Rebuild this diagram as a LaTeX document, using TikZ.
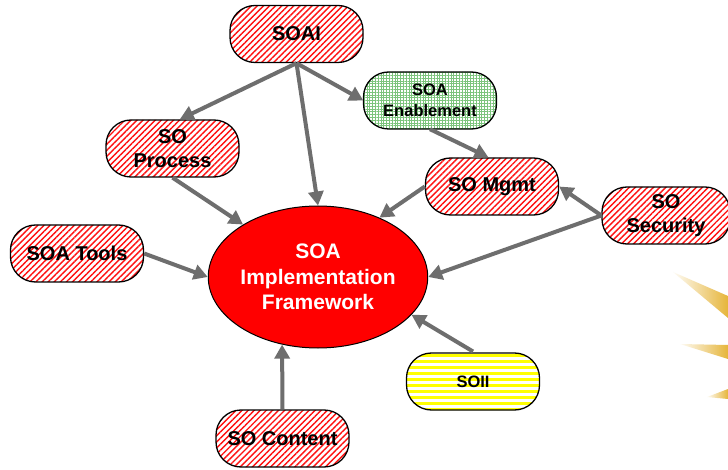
\documentclass[tikz,border=0pt]{standalone}
\usepackage{fontspec}
\setmainfont{Liberation Sans}
\usetikzlibrary{arrows.meta,patterns.meta,shapes.geometric}
\definecolor{arrowgray}{HTML}{6E6E6E}
\definecolor{raygold}{HTML}{E6B53A}
\definecolor{hatchred}{HTML}{FF1010}
\definecolor{dotgreen}{HTML}{7CC47C}
\definecolor{stripeyellow}{HTML}{FFFF00}
\begin{document}
\begin{tikzpicture}[x=1pt,y=-1pt,
  box/.style={draw=black,line width=1.3pt,rounded corners=25pt,minimum width=133pt,
    minimum height=57pt,inner sep=0pt,align=center,preaction={fill=white},
    font=\bfseries\fontsize{20}{24}\selectfont},
  redbox/.style={box,pattern={Lines[angle=45,distance=4.3pt,line width=1.4pt]},pattern color=hatchred},
  greenbox/.style={box,pattern={Hatch[angle=0,distance=2.8pt,line width=0.4pt]},pattern color=dotgreen,
    font=\bfseries\fontsize{16.5}{21}\selectfont},
  yellowbox/.style={box,pattern={Lines[angle=0,distance=6pt,line width=3pt]},pattern color=stripeyellow,
    font=\bfseries\fontsize{16.5}{21}\selectfont},
  core/.style={ellipse,draw=black,line width=1pt,fill=red,minimum width=214pt,minimum height=142pt,
    inner sep=0pt,align=center,text=white,font=\bfseries\fontsize{21}{25.5}\selectfont},
  link/.style={draw=arrowgray,line width=4pt,-{Triangle[length=14pt,width=15pt]}},
  sunray/.style={left color=raygold!5,right color=raygold}
]
\fill[white] (0,0) rectangle (728,470);
\useasboundingbox (0,0) rectangle (728,470);
% faint sun rays at the right edge
\shade[sunray] (673,272) -- (728,296) -- (728,318) -- cycle;
\shade[sunray] (680,344) -- (728,345) -- (728,359) -- cycle;
\shade[sunray] (707,397) -- (728,389) -- (728,399) -- cycle;
% nodes
\node[redbox] (soai) at (296.5,34) {SOAI};
\node[greenbox] (sen) at (430,100.5) {SOA\\Enablement};
\node[redbox] (sop) at (172.5,148.5) {SO\\Process};
\node[redbox] (smg) at (492,186.5) {SO Mgmt};
\node[redbox,minimum width=128pt] (sse) at (666,215.5) {SO\\Security};
\node[redbox] (sot) at (77,253.5) {SOA Tools};
\node[core] (fw) at (318,277) {SOA\\Implementation\\Framework};
\node[yellowbox] (soii) at (473,381.5) {SOII};
\node[redbox] (soc) at (282.5,438.5) {SO Content};
% connectors
\draw[link] (soai.south) -- (sop.76);
\draw[link] (soai.south) -- (sen.west);
\draw[link] (soai.south) -- (fw.north);
\draw[link] (sen.south) -- (smg.97);
\draw[link] (sop.south) -- (fw.145);
\draw[link] (sot.east) -- (fw.west);
\draw[link] (smg.west) -- (fw.44);
\draw[link] (sse.west) -- (smg.east);
\draw[link] (sse.west) -- (fw.east);
\draw[link] (soii.north) -- (fw.-22);
\draw[link] (soc.north) -- (fw.-118);
\end{tikzpicture}
\end{document}
